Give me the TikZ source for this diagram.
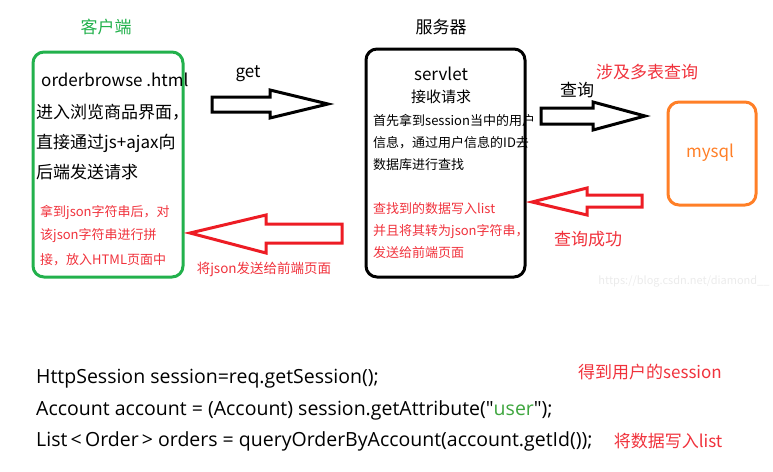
\documentclass[tikz,border=0pt]{standalone}
\usepackage{fontspec}
\setmainfont{Noto Sans CJK SC}
\newfontfamily\codefont{Open Sans}
\usetikzlibrary{positioning}
\definecolor{paintgreen}{HTML}{22B14C}
\definecolor{paintred}{HTML}{ED1C24}
\definecolor{txtred}{HTML}{F0323C}
\definecolor{paintorange}{HTML}{FF7F27}
\definecolor{codegreen}{HTML}{3FA63F}
\tikzset{
  box/.style={draw, line width=3pt, rounded corners=11pt},
  fatarrow/.style={draw, line width=3pt, fill=white, line join=miter},
  title/.style={inner sep=0pt, font=\fontsize{17}{20}\selectfont},
  line/.style={inner sep=0pt, anchor=west, font=\fontsize{17}{20}\selectfont},
  note/.style={inner sep=0pt, anchor=west, font=\fontsize{13}{16}\selectfont},
  code/.style={inner sep=0pt, anchor=west, font=\codefont\fontsize{19.5}{22}\selectfont}
}
\begin{document}
\begin{tikzpicture}[x=1pt,y=-1pt]
\useasboundingbox (0,0) rectangle (773,471);
% the three boxes
\draw[box, draw=paintgreen] (33,52) rectangle (183,277);
\draw[box] (366,49) rectangle (525,277);
\draw[box, draw=paintorange] (668,102) rectangle (756,205);
% titles
\node[title, text=paintgreen] (client) at (106,27) {客户端};
\node[title] (server) at (441,27) {服务器};
\node[title, text=paintorange] (mysql) at (710,153) {mysql};
% client box text
\node[line] (html) at (41,80) {orderbrowse .html};
\node[line] (enter) at (36,112) {进入浏览商品界面，};
\node[line] (ajax) at (36,143) {直接通过js+ajax向};
\node[line] (send) at (36,172) {后端发送请求};
\node[note, text=txtred] (got) at (40,212) {拿到json字符串后，对};
\node[note, text=txtred] (splice) at (40,236) {该json字符串进行拼};
\node[note, text=txtred] (put) at (40,260) {接，放入HTML页面中};
% servlet box text
\node[title] (servlet) at (441,74) {servlet};
\node[title, font=\fontsize{15}{18}\selectfont] (recv) at (441,97) {接收请求};
\node[note] (first) at (373,120) {首先拿到session当中的用户};
\node[note] (info) at (373,143) {信息，通过用户信息的ID去};
\node[note] (db) at (373,165) {数据库进行查找};
\node[note, text=txtred] (found) at (373,209) {查找到的数据写入list};
\node[note, text=txtred] (json) at (373,232) {并且将其转为json字符串，};
\node[note, text=txtred] (front) at (373,253) {发送给前端页面};
% arrows
\draw[fatarrow] (212,97) -- (270,97) -- (270,90) -- (328,104) -- (270,118) -- (270,112) -- (212,112) -- cycle;
\draw[fatarrow] (541,108) -- (593,108) -- (593,102) -- (645,116) -- (593,130) -- (593,124) -- (541,124) -- cycle;
\draw[fatarrow, draw=paintred] (342,224) -- (266,224) -- (266,215) -- (190,233) -- (266,253) -- (266,243) -- (342,243) -- cycle;
\draw[fatarrow, draw=paintred] (642,195) -- (587,195) -- (587,188) -- (532,202) -- (587,215) -- (587,207) -- (642,207) -- cycle;
% arrow labels
\node[title] (get) at (248,74) {get};
\node[note, anchor=center, font=\fontsize{13.5}{16}\selectfont, text=txtred] (tofront) at (264,269) {将json发送给前端页面};
\node[title] (query) at (577,90) {查询};
\node[title, text=txtred] (multi) at (647,72) {涉及多表查询};
\node[title, text=txtred] (ok) at (588,239) {查询成功};
\node[inner sep=0pt, text=black!8, font=\fontsize{11}{13}\selectfont] (mark) at (684,281) {https://blog.csdn.net/diamond\_\_};
% code
\node[code] (l1) at (36,379) {HttpSession session=req.getSession();};
\node[code] (l2) at (36,410) {Account account = (Account) session.getAttribute("\textcolor{codegreen}{user}");};
\node[code] (l3) at (36,441) {List\,<\,Order\,> orders = queryOrderByAccount(account.getId());};
\node[title, text=txtred] (sess) at (650,372) {得到用户的session};
\node[title, text=txtred] (tolist) at (668,441) {将数据写入list};
\end{tikzpicture}
\end{document}
